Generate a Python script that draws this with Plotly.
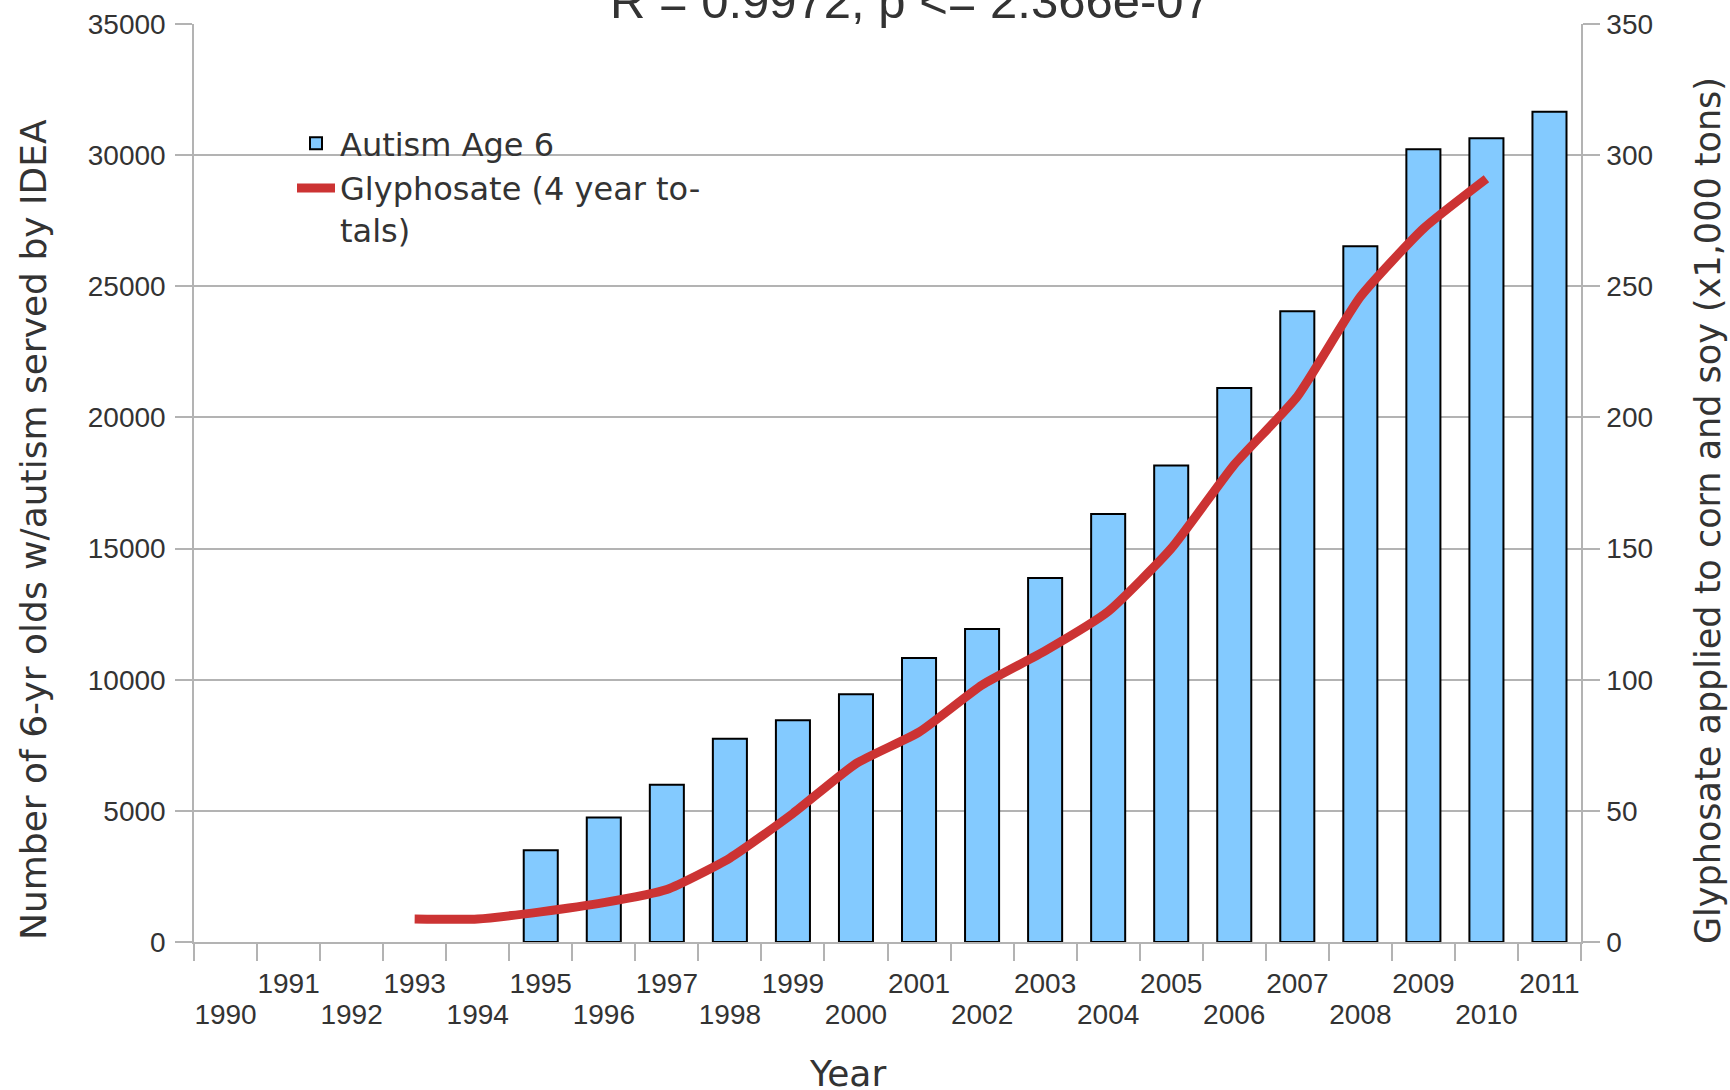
import plotly.graph_objects as go

# ---- data ----
years = [str(y) for y in range(1990, 2012)]

autism_years = [str(y) for y in range(1995, 2012)]
autism_values = [3500, 4750, 6000, 7750, 8450, 9450, 10830, 11930, 13880,
                 16320, 18170, 21120, 24050, 26530, 30220, 30640, 31650]

glyph_years = [str(y) for y in range(1993, 2011)]
glyph_values = [8.8, 8.8, 11.5, 15, 20, 32, 49, 68, 80, 98, 111, 126,
                150, 182, 208, 246, 272, 291]

left_ticks = [0, 5000, 10000, 15000, 20000, 25000, 30000, 35000]
right_ticks = [0, 50, 100, 150, 200, 250, 300, 350]

title_text = "R = 0.9972, p &lt;= 2.366e-07"
x_title = "Year"
y_title = "Number of 6-yr olds w/autism served by IDEA"
y2_title = "Glyphosate applied to corn and soy (x1,000 tons)"

# staggered year labels: odd years on the first row, even years on the second
odd_year_labels = [y if int(y) % 2 == 1 else "" for y in years]
even_years = [y for y in years if int(y) % 2 == 0]

# ---- layout constants (pixels) ----
W, H = 1730, 1090
L, R, T, B = 194, 149, 24, 148
PW, PH = W - L - R, H - T - B


def px(xp):
    return (xp - L) / PW


def py(yp):
    return (H - B - yp) / PH


GRID = "#b3b3b3"
TXT = "#333333"
TICKFONT = dict(family="Liberation Sans, Arial, sans-serif", size=28, color=TXT)
TITLEFONT = dict(family="DejaVu Sans, sans-serif", size=36, color=TXT)

fig = go.Figure()
fig.add_trace(go.Bar(
    x=autism_years, y=autism_values, name="Autism Age 6",
    marker=dict(color="#83caff", line=dict(color="#000000", width=2)),
    xaxis="x", yaxis="y",
))
fig.add_trace(go.Scatter(
    x=glyph_years, y=glyph_values, name="Glyphosate (4 year to-<br>tals)",
    mode="lines", line=dict(color="#cc3333", width=9, shape="spline", smoothing=0.5),
    xaxis="x2", yaxis="y2",
))

fig.update_layout(
    width=W, height=H,
    margin=dict(l=L, r=R, t=T, b=B, autoexpand=False),
    paper_bgcolor="white", plot_bgcolor="white",
    bargap=0.46,
    showlegend=True,
    legend=dict(
        x=px(292), y=py(116), xanchor="left", yanchor="top",
        bgcolor="rgba(0,0,0,0)", valign="top",
        font=dict(family="DejaVu Sans, sans-serif", size=32, color=TXT),
        itemwidth=38, tracegroupgap=0,
    ),
    xaxis=dict(
        type="category", categoryorder="array", categoryarray=years,
        range=[-0.5, len(years) - 0.5],
        tickmode="array", tickvals=years, ticktext=odd_year_labels, tickangle=0,
        tickson="boundaries", ticks="outside", ticklen=17, tickwidth=1.5,
        tickcolor=GRID, showgrid=False, showline=True, linecolor=GRID,
        linewidth=1.5, tickfont=TICKFONT, ticklabelstandoff=16,
        automargin=False, zeroline=False,
    ),
    xaxis2=dict(
        type="category", categoryorder="array", categoryarray=years,
        range=[-0.5, len(years) - 0.5], overlaying="x", side="bottom",
        anchor="y",
        tickmode="array", tickvals=even_years, ticktext=even_years, tickangle=0,
        ticks="outside", ticklen=17, tickcolor="rgba(0,0,0,0)",
        showgrid=False, showline=False, tickfont=TICKFONT,
        ticklabelstandoff=30, automargin=False, zeroline=False,
    ),
    yaxis=dict(
        range=[0, 35000], tickmode="array", tickvals=left_ticks, tickformat="d",
        ticks="outside", ticklen=17, tickwidth=1.5, tickcolor=GRID,
        showgrid=True, gridcolor=GRID, gridwidth=1.5,
        showline=True, linecolor=GRID, linewidth=1.5,
        tickfont=TICKFONT, ticklabelstandoff=4, automargin=False,
        zeroline=False,
    ),
    yaxis2=dict(
        range=[0, 350], tickmode="array", tickvals=right_ticks, tickformat="d",
        overlaying="y", side="right", anchor="x",
        ticks="outside", ticklen=17, tickwidth=1.5, tickcolor=GRID,
        showgrid=False, showline=True, linecolor=GRID, linewidth=1.5,
        tickfont=TICKFONT, ticklabelstandoff=1, automargin=False,
        zeroline=False,
    ),
    annotations=[
        dict(text=title_text, xref="paper", yref="paper", x=px(910), y=py(1),
             xanchor="center", yanchor="middle", showarrow=False,
             font=dict(family="Liberation Sans, Arial, sans-serif", size=49, color=TXT)),
        dict(text=y_title, xref="paper", yref="paper", x=px(33), y=py(530),
             xanchor="center", yanchor="middle", showarrow=False, textangle=-90,
             font=TITLEFONT),
        dict(text=y2_title, xref="paper", yref="paper", x=px(1708), y=py(511),
             xanchor="center", yanchor="middle", showarrow=False, textangle=-90,
             font=dict(family="DejaVu Sans, sans-serif", size=35, color=TXT)),
        dict(text=x_title, xref="paper", yref="paper", x=px(847), y=py(1073),
             xanchor="center", yanchor="middle", showarrow=False,
             font=TITLEFONT),
    ],
)

# remove the default page margin so the figure sits at the window's top-left
fig.write_html("out.html", config={"displayModeBar": False},
               post_script="document.body.style.margin='0';")
